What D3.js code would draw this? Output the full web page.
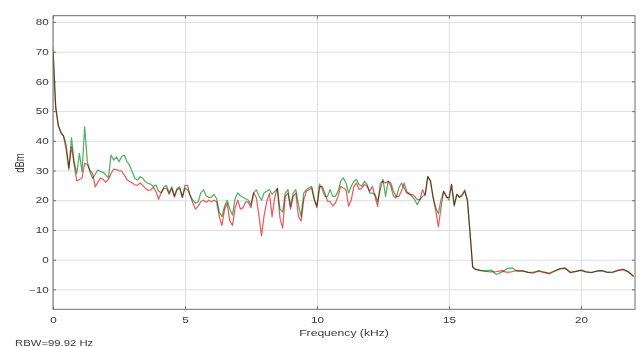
<!DOCTYPE html>
<html>
<head>
<meta charset="utf-8">
<script src="https://cdn.jsdelivr.net/npm/d3@7/dist/d3.min.js"></script>
<style>
  html, body { margin: 0; padding: 0; background: #fff; }
  text { font-family: "Liberation Sans", Arial, Helvetica, sans-serif; fill: #3a3a3a; }
  .grid line { stroke: #dedede; stroke-width: 1; }
  .grid .domain { display: none; }
  .axis .domain { display: none; }
  .axis line { stroke: #6e6e6e; }
  .trace { fill: none; stroke-width: 1.25; mix-blend-mode: multiply; stroke-linejoin: round; }
</style>
</head>
<body>
<div id="chart"></div>
<script>
// frequency bins (kHz): 0.1 kHz below the cutoff, 0.2 kHz in the flat tail
const freqLow = d3.range(0, 161).map(i => i / 10);
const freqHigh = d3.range(81, 111).map(i => i / 5);
const freq = freqLow.concat(freqHigh);

// green trace (dBm)
const greenLow = [
  71.5, 52, 45.5, 42.5, 41.7, 38.6, 30.2, 41, 33, 29,
  35.8, 29.6, 44.7, 33, 29.6, 27.4, 28.7, 30.2, 29.6, 29.4,
  28.5, 27.6, 35.2, 33.5, 34.6, 33, 34.6, 35.2, 33, 31.8,
  29.6, 27.4, 26.8, 27.9, 27.4, 26.2, 25.7, 25.4, 24.6, 25.1,
  23, 22.5, 24.5, 25, 22.5, 24.5, 21.5, 24, 24.5, 21,
  24, 23.5, 21.5, 20, 19, 19.5, 22.5, 23.5, 21.5, 21,
  21, 22, 20.5, 16, 14.5, 18, 20, 17, 15, 20.5,
  22.5, 21.5, 21, 20.5, 20, 18.5, 22.5, 23.5, 21.5, 20,
  22.5, 23, 23.6, 22, 23, 24, 17, 16, 22.4, 23.6,
  18, 22.4, 23.6, 18.5, 14.5, 22.4, 23.6, 24.2, 24.7, 20.5,
  18, 25.5, 23.6, 21.3, 21.3, 23.6, 21.3, 21.3, 23, 26.4,
  27.5, 25.8, 22.4, 24.7, 26.4, 27, 25.3, 24.7, 26.4, 25.3,
  22.4, 22.4, 21.9, 19.6, 23.6, 27, 21.3, 26.4, 24.7, 21.3,
  20.8, 24.1, 25.8, 24.1, 22.4, 22.4, 21.3, 20.2, 18.5, 20.2,
  21.3, 22, 28, 26.5, 21, 17.5, 15.5, 20.2, 23, 21.5,
  20, 25.3, 18.5, 22, 21, 22, 23, 20, 9, -2.5,
  -3.2
];
const greenHigh = [
  -3.6, -3.8, -3.5, -5.0, -4.2, -3.0, -2.8, -3.9, -3.8, -4.3,
  -4.2, -3.7, -4.1, -4.8, -3.9, -3.0, -2.8, -4.2, -3.9, -3.6,
  -4.2, -4.4, -3.8, -3.6, -4.2, -4.4, -3.5, -3.2, -4.0, -5.8
];

// red trace (dBm)
const redLow = [
  70, 51, 45, 43, 41.5, 37, 31, 38, 32, 26.5,
  27, 27.5, 32.5, 32, 30, 29, 24.5, 26, 27.5, 27,
  26, 27, 29, 30.5, 30.3, 30, 29.8, 28.5, 27, 26.3,
  25.8, 25.2, 25, 25.8, 25, 24, 23.3, 23.5, 24.3, 23,
  20.3, 22.5, 24, 24, 22, 24, 21, 23.5, 24, 21,
  25, 25, 21.5, 19, 17, 18, 19.5, 20, 19.3, 20,
  19.5, 20, 19.5, 14.5, 11.5, 17, 19, 13, 11.5, 17.5,
  20, 17, 17.5, 19.5, 19.3, 17.5, 22.5, 21, 15, 8,
  15, 19.6, 22.4, 14.5, 21, 24, 14, 10.6, 21.3, 22.4,
  17, 21.3, 22.4, 14.5, 13, 20.2, 23, 23.6, 24.1, 20,
  17.5, 24.5, 24.7, 22.4, 19.6, 19.6, 18, 19.1, 21.3, 24.7,
  24.1, 23.6, 18, 20.2, 24.7, 25.8, 23.6, 24.1, 25.3, 24.7,
  23, 24.7, 21.3, 17.9, 25.8, 26.4, 25.8, 26.4, 25.8, 23,
  21.3, 21.3, 23, 25.8, 23, 21.9, 21.9, 21.3, 20.2, 20.2,
  23.6, 21.5, 28, 26.5, 21, 16.5, 11, 17.5, 23, 21,
  21, 25.3, 18, 22, 21, 21.5, 23.5, 20, 9, -2.5,
  -3.3
];
const redHigh = [
  -3.7, -3.9, -4.1, -4.0, -3.7, -4.3, -4.0, -3.6, -3.8, -4.3,
  -4.5, -3.9, -4.4, -4.5, -3.8, -3.2, -2.9, -4.4, -4.0, -3.5,
  -4.0, -4.3, -3.9, -3.8, -4.3, -4.1, -3.7, -3.4, -4.2, -5.5
];

const xTicks = [0, 5, 10, 15, 20];
const yTicks = [-10, 0, 10, 20, 30, 40, 50, 60, 70, 80];

const series = [
  { name: 'green', color: '#54b064', values: greenLow.concat(greenHigh) },
  { name: 'red', color: '#f25a60', values: redLow.concat(redHigh) }
];

const W = 640, H = 347;
const margin = { top: 15.7, right: 5, bottom: 37.7, left: 53 };
const width = W - margin.left - margin.right;
const height = H - margin.top - margin.bottom;
const stretch = 1.38; // text in the picture is wider than it is tall

const svg = d3.select('#chart').append('svg')
  .attr('width', W)
  .attr('height', H)
  .attr('viewBox', `0 0 ${W} ${H}`);

svg.append('rect').attr('width', W).attr('height', H).attr('fill', '#fff');

const g = svg.append('g')
  .attr('transform', `translate(${margin.left},${margin.top})`);

const x = d3.scaleLinear().domain([0, 22.05]).range([0, width]);
const y = d3.scaleLinear().domain([-16.7, 82.1]).range([height, 0]);

// grid
g.append('g')
  .attr('class', 'grid')
  .attr('transform', `translate(0,${height})`)
  .call(d3.axisBottom(x).tickValues(xTicks).tickSize(-height).tickFormat(''));

g.append('g')
  .attr('class', 'grid')
  .call(d3.axisLeft(y).tickValues(yTicks).tickSize(-width).tickFormat(''));

// traces
g.append('clipPath').attr('id', 'clip')
  .append('rect').attr('width', width).attr('height', height);

const line = d3.line()
  .x((d, i) => x(freq[i]))
  .y(d => y(d));

const traces = g.append('g').attr('clip-path', 'url(#clip)').style('isolation', 'isolate');
traces.selectAll('.trace')
  .data(series)
  .enter().append('path')
  .attr('class', 'trace')
  .attr('stroke', d => d.color)
  .attr('d', d => line(d.values));

// box
g.append('rect')
  .attr('width', width)
  .attr('height', height)
  .attr('fill', 'none')
  .attr('stroke', '#6e6e6e')
  .attr('stroke-width', 1);

// axes: ticks point inward, labels on left and bottom only
const xAxis = g.append('g')
  .attr('class', 'axis')
  .attr('transform', `translate(0,${height})`)
  .call(d3.axisBottom(x).tickValues(xTicks).tickSize(-3).tickPadding(7.5).tickFormat(d3.format('d')));

g.append('g')
  .attr('class', 'axis')
  .call(d3.axisTop(x).tickValues(xTicks).tickSize(-3).tickFormat(''));

const yAxis = g.append('g')
  .attr('class', 'axis')
  .call(d3.axisLeft(y).tickValues(yTicks).tickSize(-3).tickPadding(3).tickFormat(d3.format('d')));

g.append('g')
  .attr('class', 'axis')
  .attr('transform', `translate(${width},0)`)
  .call(d3.axisRight(y).tickValues(yTicks).tickSize(-3).tickFormat(''));

svg.selectAll('.axis text')
  .attr('font-size', 8.5)
  .attr('font-family', null)
  .attr('fill', '#3a3a3a');

xAxis.selectAll('text').attr('transform', `scale(${stretch},1)`);
yAxis.selectAll('text').attr('transform', `scale(${stretch},1)`);

// labels
svg.append('text')
  .attr('transform', `translate(${margin.left + width / 2},336) scale(${stretch},1)`)
  .attr('text-anchor', 'middle')
  .attr('font-size', 8.8)
  .text('Frequency (kHz)');

svg.append('text')
  .attr('transform', `translate(24,163) scale(1.3,1) rotate(-90)`)
  .attr('text-anchor', 'middle')
  .attr('font-size', 9.5)
  .text('dBm');

svg.append('text')
  .attr('transform', `translate(15,345.5) scale(${stretch},1)`)
  .attr('font-size', 8.2)
  .text('RBW=99.92 Hz');
</script>
</body>
</html>
